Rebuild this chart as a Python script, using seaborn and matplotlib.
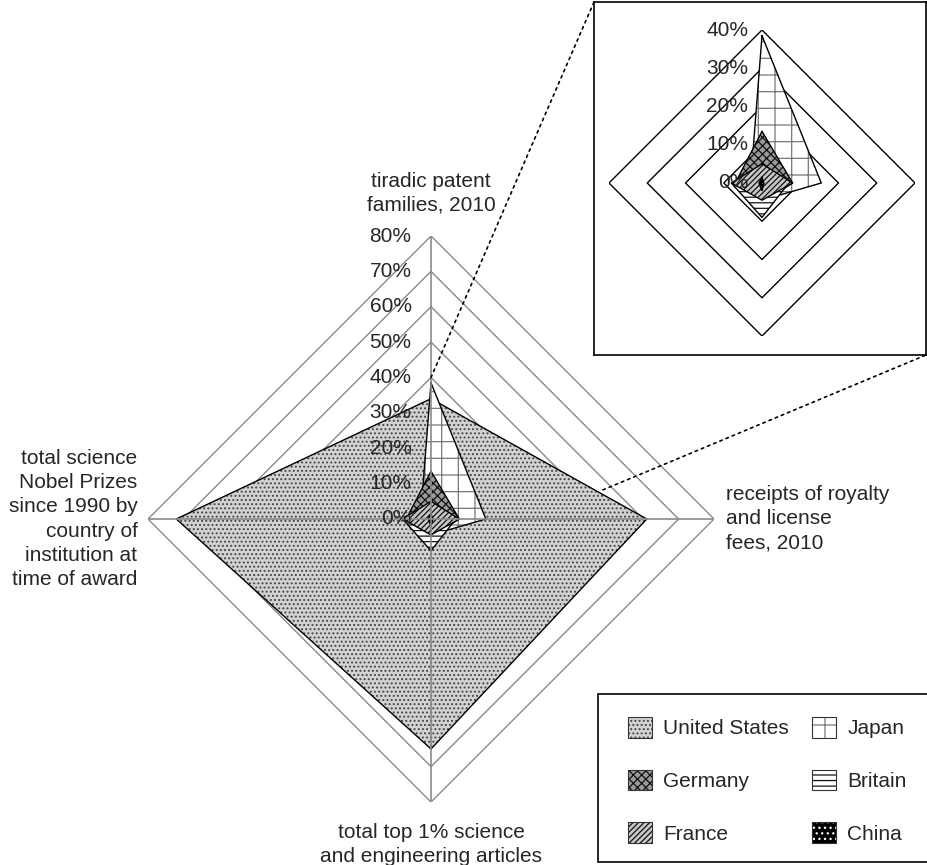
import numpy as np
import matplotlib.pyplot as plt
import seaborn as sns
from matplotlib.patches import Patch, ConnectionPatch, Rectangle

# Style
sns.set_theme(style="white")
plt.rcParams['font.family'] = ['Liberation Sans', 'DejaVu Sans']
plt.rcParams['hatch.linewidth'] = 0.9

# Data (share of world total, %)
categories = [
    "tiradic patent\nfamilies, 2010",
    "receipts of royalty\nand license\nfees, 2010",
    "total top 1% science\nand engineering articles",
    "total science\nNobel Prizes\nsince 1990 by\ncountry of\ninstitution at\ntime of award",
]
countries = ["United States", "Germany", "France", "Japan", "Britain", "China"]
us = [34, 61, 65, 72]
germany = [13.5, 8, 5, 7]
france = [5, 8, 4.5, 8]
japan = [38.5, 15.5, 4.5, 3]
britain = [3, 7, 9, 8]
china = [1.5, 0.5, 2, 0.8]
values = {"United States": us, "Germany": germany, "France": france,
          "Japan": japan, "Britain": britain, "China": china}

main_ticks = [0, 10, 20, 30, 40, 50, 60, 70, 80]
inset_ticks = [0, 10, 20, 30, 40]
inset_rings = [10, 20, 30, 40]

# fill colour, hatch colour, hatch
styles = {
    "United States": ("#d2d2d2", "#444444", "...."),
    "Japan": ("white", "#777777", "+"),
    "Germany": ("#9a9a9a", "#111111", "xxxx"),
    "Britain": ("white", "#111111", "---"),
    "France": ("#c8c8c8", "#111111", "//////"),
    "China": ("black", "white", "..."),
}
draw_order = ["United States", "Japan", "Germany", "Britain", "France", "China"]

FS = 15
angles = np.deg2rad([0, 90, 180, 270])
theta = np.append(angles, angles[0] + 2 * np.pi)


def closed(v):
    return np.append(v, v[0])


def setup_polar(ax, rmax):
    ax.set_theta_zero_location("N")
    ax.set_theta_direction(-1)
    ax.grid(False)
    ax.set_xticks([])
    ax.set_yticks([])
    ax.spines["polar"].set_visible(False)
    ax.patch.set_alpha(0)
    ax.set_ylim(0, rmax)


def draw_series(ax, name, zorder):
    fc, hc, hatch = styles[name]
    r = closed(values[name])
    ax.fill(theta, r, facecolor=fc, edgecolor=hc, hatch=hatch, linewidth=0, zorder=zorder)
    sns.lineplot(x=theta, y=r, sort=False, estimator=None, color="black",
                 linewidth=1.0, ax=ax, zorder=zorder + 0.5)


fig = plt.figure(figsize=(9.27, 8.65), dpi=100)

# ---- main radar ----
ax = fig.add_axes([148 / 927, (865 - 802) / 865, 566 / 927, 566 / 865], projection="polar")
setup_polar(ax, 80)

for ring in main_ticks[1:]:
    ax.plot(theta, closed([ring] * 4), color="#8a8a8a", linewidth=1.0, zorder=1)

for i, name in enumerate(draw_order):
    draw_series(ax, name, 2 + i)

for a in angles:
    ax.plot([a, a], [0, 80], color="#8a8a8a", linewidth=1.2, zorder=20)

for t in main_ticks:
    ax.annotate(f"{t}%", xy=(0, t), xytext=(-14, 0), textcoords="offset points",
                ha="right", va="center", fontsize=FS, zorder=30)

ax.text(0, 86, categories[0], ha="center", va="bottom", fontsize=FS, linespacing=1.35)
ax.text(np.pi / 2, 83.5, categories[1], ha="left", va="center", fontsize=FS, linespacing=1.35)
ax.text(np.pi, 85.8, categories[2], ha="center", va="top", fontsize=FS, linespacing=1.35)
ax.text(3 * np.pi / 2, 83, categories[3], ha="right", va="center", fontsize=FS,
        linespacing=1.35, multialignment="right")

# ---- inset (zoom on 0-40%) ----
frame = fig.add_axes([594 / 927, (865 - 355) / 865, 332 / 927, 353 / 865])
frame.set_xticks([])
frame.set_yticks([])
for s in frame.spines.values():
    s.set_color("black")
    s.set_linewidth(1.2)

ins = fig.add_axes([609 / 927, (865 - 336) / 865, 306 / 927, 306 / 865], projection="polar")
setup_polar(ins, 40)
for ring in inset_rings:
    ins.plot(theta, closed([ring] * 4), color="black", linewidth=1.0, zorder=1)
for i, name in enumerate(draw_order[1:]):
    draw_series(ins, name, 2 + i)
for t in inset_ticks:
    ins.annotate(f"{t}%", xy=(0, t), xytext=(-10, 0), textcoords="offset points",
                 ha="right", va="center", fontsize=FS, zorder=30)

# dotted leader lines
for xyA, xyB in [((0, 40), (0, 1)), ((np.deg2rad(80.4), 49.3), (1, 0))]:
    con = ConnectionPatch(xyA=xyA, coordsA=ax.transData, xyB=xyB, coordsB=frame.transAxes,
                          linestyle=(0, (1.5, 2.5)), color="black", linewidth=1.2)
    fig.add_artist(con)

# ---- legend ----
fig.add_artist(Rectangle((598 / 927, (865 - 862) / 865), 335 / 927, 168 / 865,
                         transform=fig.transFigure, facecolor="white",
                         edgecolor="black", linewidth=1.2, zorder=0))
handles = []
for name in countries:
    fc, hc, hatch = styles[name]
    handles.append((Patch(facecolor=fc, edgecolor=hc, hatch=hatch, linewidth=0),
                    Patch(fill=False, edgecolor="#333333", linewidth=0.8)))
leg = fig.legend(handles, countries, loc="upper left", bbox_to_anchor=(628 / 927, 1 - 717 / 865),
                 ncol=2, frameon=False, fontsize=FS,
                 handlelength=1.15, handleheight=1.15, labelspacing=1.5, columnspacing=1.1,
                 handletextpad=0.55, borderpad=0, borderaxespad=0)

fig.savefig("out.png", dpi=100, facecolor="white")
